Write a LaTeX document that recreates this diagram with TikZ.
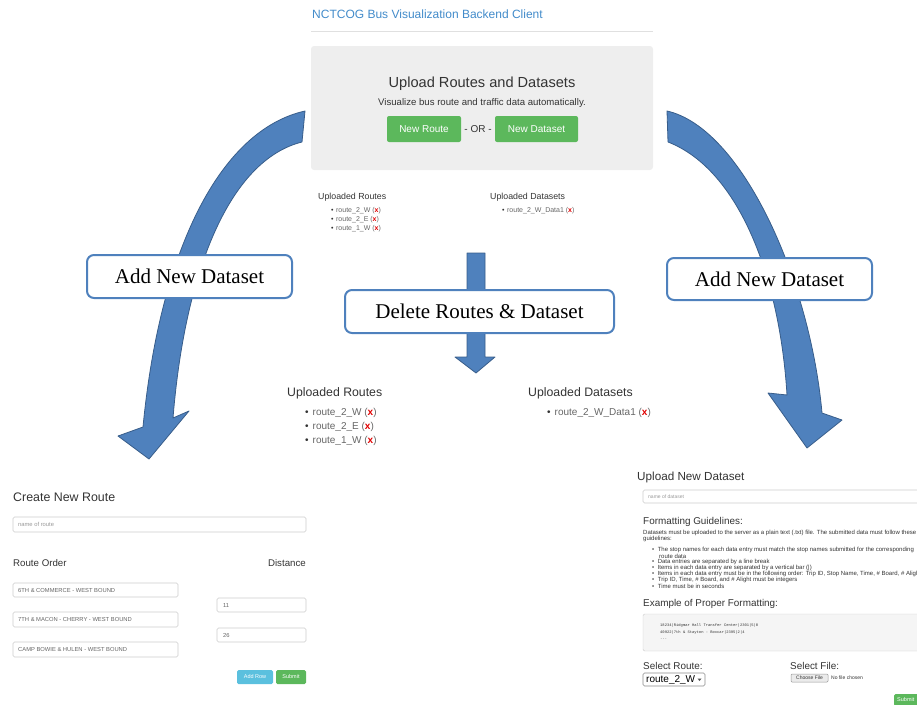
\documentclass[tikz,border=0pt]{standalone}
\usepackage{fontspec}
\setmainfont{Liberation Sans}
\newfontfamily\boxfont{Liberation Serif}
\newfontfamily\codefont{Liberation Mono}
\newcommand{\fsz}[1]{\fontsize{#1}{#1}\selectfont}
\newcommand{\delx}{(\textcolor{xred}{\textbf{x}})}
\definecolor{arrowblue}{HTML}{4F81BD}
\definecolor{arrowedge}{HTML}{385D8A}
\definecolor{linkblue}{HTML}{428BCA}
\definecolor{okgreen}{HTML}{5CB85C}
\definecolor{infoblue}{HTML}{5BC0DE}
\definecolor{panelgray}{HTML}{EEEEEE}
\definecolor{textdark}{HTML}{333333}
\definecolor{itemgray}{HTML}{666666}
\definecolor{hintgray}{HTML}{999999}
\definecolor{fieldline}{HTML}{CCCCCC}
\definecolor{xred}{HTML}{E00000}
\usetikzlibrary{positioning}
\begin{document}
\begin{tikzpicture}[x=1pt, y=-1pt,
    txt/.style={inner sep=0pt, anchor=west, text=textdark},
    item/.style={inner sep=0pt, anchor=west, text=itemgray},
    field/.style={draw=fieldline, fill=white, rounded corners=1.5pt, line width=0.6pt},
    btn/.style={rounded corners=1.5pt, text=white, inner sep=0pt},
    bigarrow/.style={fill=arrowblue, draw=arrowedge, line width=0.8pt, line join=round},
    stepbox/.style={draw=arrowblue, fill=white, line width=2pt, rounded corners=7pt,
        inner sep=0pt, text=black, font=\boxfont\fsz{21}}]
    \useasboundingbox (0,0) rectangle (917,704);
    \clip (0,0) rectangle (917,704);

    % Backend client, top
    \node[inner sep=0pt, anchor=west, text=linkblue, font=\fsz{12}] (title) at (312,14) {NCTCOG Bus Visualization Backend Client};
    \draw[fieldline!60, line width=0.6pt] (311,31) -- (653,31);
    \fill[panelgray, rounded corners=3pt] (311,46) rectangle (653,170);
    \node[inner sep=0pt, text=textdark, font=\fsz{14.6}] (upload) at (482,84) {Upload Routes and Datasets};
    \node[inner sep=0pt, text=textdark, font=\fsz{9.6}] (subtitle) at (482,103) {Visualize bus route and traffic data automatically.};
    \fill[okgreen, rounded corners=2pt] (387,116) rectangle (461,142);
    \node[btn, font=\fsz{10}] (newroute) at (424,129) {New Route};
    \node[inner sep=0pt, text=textdark, font=\fsz{10}] (or) at (478,129) {- OR -};
    \fill[okgreen, rounded corners=2pt] (495,116) rectangle (578,142);
    \node[btn, font=\fsz{10}] (newdata) at (536.5,129) {New Dataset};

    \node[txt, font=\fsz{8.8}] (routes0) at (318,197) {Uploaded Routes};
    \node[item, font=\fsz{7}] (r1) at (331,211) {\textcolor{textdark}{•}\hspace{2.5pt}route\_2\_W \delx};
    \node[item, font=\fsz{7}] (r2) at (331,220) {\textcolor{textdark}{•}\hspace{2.5pt}route\_2\_E \delx};
    \node[item, font=\fsz{7}] (r3) at (331,229) {\textcolor{textdark}{•}\hspace{2.5pt}route\_1\_W \delx};
    \node[txt, font=\fsz{8.8}] (sets0) at (490,197) {Uploaded Datasets};
    \node[item, font=\fsz{7}] (d1) at (502,211) {\textcolor{textdark}{•}\hspace{2.5pt}route\_2\_W\_Data1 \delx};

    % after deleting
    \node[txt, font=\fsz{12.3}] (routes1) at (287,393) {Uploaded Routes};
    \node[item, font=\fsz{10}] (s1) at (305,413) {\textcolor{textdark}{•}\hspace{4pt}route\_2\_W \delx};
    \node[item, font=\fsz{10}] (s2) at (305,427) {\textcolor{textdark}{•}\hspace{4pt}route\_2\_E \delx};
    \node[item, font=\fsz{10}] (s3) at (305,441) {\textcolor{textdark}{•}\hspace{4pt}route\_1\_W \delx};
    \node[txt, font=\fsz{12.3}] (sets1) at (528,393) {Uploaded Datasets};
    \node[item, font=\fsz{10}] (e1) at (547,413) {\textcolor{textdark}{•}\hspace{4pt}route\_2\_W\_Data1 \delx};

    % Create New Route
    \node[txt, font=\fsz{12.4}] (create) at (13,497) {Create New Route};
    \draw[field] (13,517) rectangle (306,532);
    \node[txt, text=hintgray, font=\fsz{5.8}] (rname) at (18,524.5) {name of route};
    \node[txt, font=\fsz{9.7}] (order) at (13,563) {Route Order};
    \node[inner sep=0pt, anchor=east, text=textdark, font=\fsz{9.7}] (dist) at (306,563) {Distance};
    \draw[field] (13,583) rectangle (178,597);
    \node[txt, text=itemgray, font=\fsz{5.8}] (stop1) at (18,590) {6TH \& COMMERCE - WEST BOUND};
    \draw[field] (13,612) rectangle (178,627);
    \node[txt, text=itemgray, font=\fsz{5.8}] (stop2) at (18,619.5) {7TH \& MACON - CHERRY - WEST BOUND};
    \draw[field] (13,642) rectangle (178,657);
    \node[txt, text=itemgray, font=\fsz{5.8}] (stop3) at (18,649.5) {CAMP BOWIE \& HULEN - WEST BOUND};
    \draw[field] (217,598) rectangle (306,612);
    \node[txt, text=itemgray, font=\fsz{5.8}] (dist1) at (223,605) {11};
    \draw[field] (217,628) rectangle (306,642);
    \node[txt, text=itemgray, font=\fsz{5.8}] (dist2) at (223,635) {26};
    \fill[infoblue, rounded corners=1.5pt] (237,670) rectangle (273,684);
    \node[btn, font=\fsz{5.5}] (addrow) at (255,677) {Add Row};
    \fill[okgreen, rounded corners=1.5pt] (276,670) rectangle (306,684);
    \node[btn, font=\fsz{5.5}] (submit1) at (291,677) {Submit};

    % Upload New Dataset
    \node[txt, font=\fsz{11.7}] (uploadset) at (637,477) {Upload New Dataset};
    \draw[field] (643,490) rectangle (925,503);
    \node[txt, text=hintgray, font=\fsz{5}] (dname) at (648,496.5) {name of dataset};
    \node[txt, font=\fsz{9.9}] (guide) at (643,522) {Formatting Guidelines:};
    \node[txt, font=\fsz{6}] (para1) at (643,533) {Datasets must be uploaded to the server as a plain text (.txt) file. The submitted data must follow these};
    \node[txt, font=\fsz{6}] (para2) at (643,539) {guidelines:};
    \node[txt, font=\fsz{6}] (g1) at (652,550) {•\hspace{3.5pt}The stop names for each data entry must match the stop names submitted for the corresponding};
    \node[txt, font=\fsz{6}] (g1b) at (659,556) {route data};
    \node[txt, font=\fsz{6}] (g2) at (652,562) {•\hspace{3.5pt}Data entries are separated by a line break};
    \node[txt, font=\fsz{6}] (g3) at (652,568) {•\hspace{3.5pt}Items in each data entry are separated by a vertical bar (|)};
    \node[txt, font=\fsz{6}] (g4) at (652,574) {•\hspace{3.5pt}Items in each data entry must be in the following order: Trip ID, Stop Name, Time, \# Board, \# Alight};
    \node[txt, font=\fsz{6}] (g5) at (652,580) {•\hspace{3.5pt}Trip ID, Time, \# Board, and \# Alight must be integers};
    \node[txt, font=\fsz{6}] (g6) at (652,586) {•\hspace{3.5pt}Time must be in seconds};
    \node[txt, font=\fsz{9.9}] (example) at (643,604) {Example of Proper Formatting:};
    \draw[fill=black!4, draw=fieldline, rounded corners=1.5pt] (643,614) rectangle (925,651);
    \node[txt, font=\codefont\fsz{3.8}] (code1) at (660,626) {18234|Ridgmar Hall Transfer Center|2301|5|0};
    \node[txt, font=\codefont\fsz{3.8}] (code2) at (660,632.5) {40922|7th \& Stayton - Boxcar|2395|2|4};
    \node[txt, font=\codefont\fsz{3.8}] (code3) at (660,639) {...};
    \node[txt, font=\fsz{9.9}] (selroute) at (643,666) {Select Route:};
    \draw[draw=black!45, fill=white, rounded corners=1.5pt, line width=0.6pt] (643,673) rectangle (705,686);
    \node[txt, text=black, font=\fsz{10}] (selval) at (646,679.5) {route\_2\_W};
    \fill[black!70] (697.5,678.5) -- (701.5,678.5) -- (699.5,681) -- cycle;
    \node[txt, font=\fsz{9.9}] (selfile) at (790,666) {Select File:};
    \draw[draw=black!40, fill=black!8, rounded corners=1pt, line width=0.5pt] (791,674) rectangle (828,682);
    \node[inner sep=0pt, text=textdark, font=\fsz{5}] (choose) at (809.5,678) {Choose File};
    \node[txt, font=\fsz{5}] (nofile) at (831,678) {No file chosen};
    \fill[okgreen, rounded corners=1.5pt] (894,694) rectangle (930,706);
    \node[btn, anchor=west, font=\fsz{5.5}] (submit2) at (897,700) {Submit};

    % arrows
    \draw[bigarrow] (305,111) .. controls (220,130) and (160,250) .. (143,427)
        -- (118,436) -- (149,459) -- (189,411) -- (173,418)
        .. controls (185,270) and (230,160) .. (302,142) -- cycle;
    \draw[bigarrow] (667,111) .. controls (742,128) and (810,280) .. (822,413)
        -- (842,420) -- (807,448) -- (768,393) -- (787,395)
        .. controls (780,280) and (740,170) .. (668,142) -- cycle;
    \draw[bigarrow] (467,253) -- (485,253) -- (485,357) -- (495,357) -- (476,373)
        -- (455,357) -- (467,357) -- cycle;

    % labels on the arrows
    \node[stepbox, minimum width=205pt, minimum height=43pt] (addleft) at (189.5,276.5) {Add New Dataset};
    \node[stepbox, minimum width=205pt, minimum height=42pt] (addright) at (769.5,279) {Add New Dataset};
    \node[stepbox, minimum width=269pt, minimum height=43pt] (delete) at (479.5,311.5) {Delete Routes \& Dataset};
\end{tikzpicture}
\end{document}
